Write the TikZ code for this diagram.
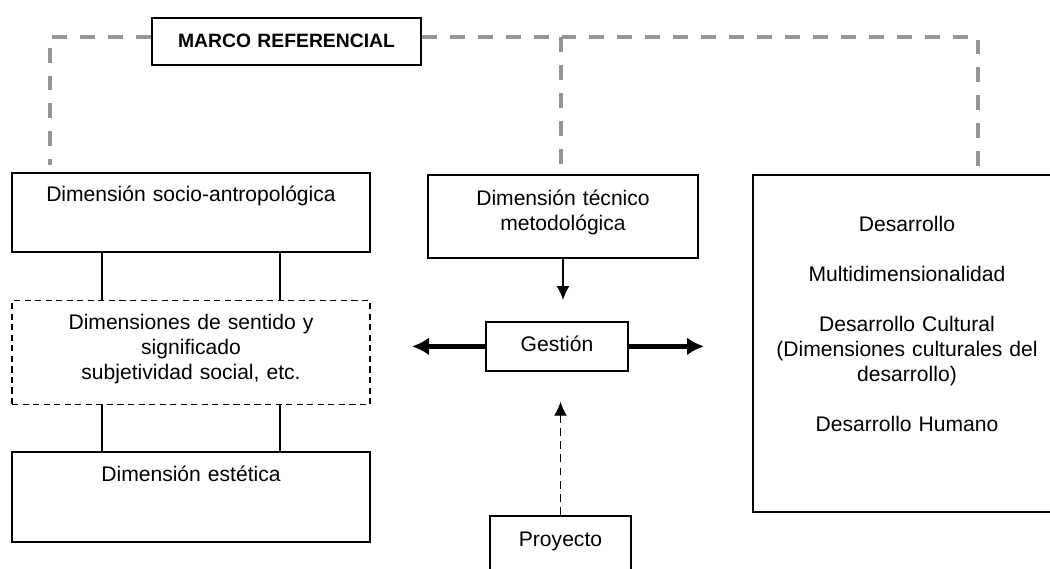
\documentclass[tikz,border=0pt]{standalone}
\usepackage{fontspec}
\setmainfont{Liberation Sans}
\usepackage{tikz}
\usetikzlibrary{arrows.meta}

\begin{document}
\begin{tikzpicture}[x=0.02cm, y=-0.02cm,
    box/.style={draw, line width=1pt, inner sep=0pt, align=center, anchor=north,
        font=\fontsize{12}{14.2}\selectfont},
    refline/.style={draw=black!42, line width=2pt, dash pattern=on 8.5pt off 7.4pt},
    thin/.style={line width=0.8pt},
    thick arrow/.style={line width=3.2pt, -{Latex[length=0.34cm, width=0.36cm]}}]
        \useasboundingbox (0,0) rectangle (1050,568);
        \clip (0,0) rectangle (1050,568);

        \node[box, font=\fontsize{11}{13}\selectfont\bfseries, text width=5.38cm, text height=0.6cm, text depth=0.34cm] (marco) at (286.5, 17) {MARCO REFERENCIAL};
        \node[box, text width=7.16cm, text height=0.58cm, text depth=1.0cm] (socio) at (191, 172) {Dimensión socio-antropológica};
        \node[box, dash pattern=on 3.5pt off 2.5pt, line width=0.8pt, text width=7.16cm, text height=0.58cm, text depth=1.5cm] (sentido) at (191, 300) {Dimensiones de sentido y\\significado\\subjetividad social, etc.};
        \node[box, text width=7.16cm, text height=0.6cm, text depth=1.2cm] (estetica) at (191, 451) {Dimensión estética};
        \node[box, text width=5.4cm, text height=0.62cm, text depth=1.04cm] (tecnico) at (563, 174) {Dimensión técnico\\metodológica};
        \node[box, text width=2.84cm, text height=0.6cm, text depth=0.38cm] (gestion) at (557, 321) {Gestión};
        \node[box, text width=2.82cm, text height=0.62cm, text depth=0.7cm] (proyecto) at (560.5, 515) {Proyecto};
        \node[box, line width=1.1pt, text width=6.16cm, text height=1.14cm, text depth=5.6cm] (desarrollo) at (907, 174) {Desarrollo\\[\baselineskip]Multidimensionalidad\\[\baselineskip]Desarrollo Cultural\\(Dimensiones culturales del\\desarrollo)\\[\baselineskip]Desarrollo Humano};

        \coordinate (cl) at (50, 37);
        \coordinate (cle) at (50, 165);
        \coordinate (cm) at (561, 37);
        \coordinate (cme) at (561, 165);
        \coordinate (cr) at (978, 37);
        \coordinate (cre) at (978, 167);
        \coordinate (gl) at (412, 345);
        \coordinate (gr) at (704, 345);

        \path[refline] (marco.west |- cl) -- (cl) -- (cle);
        \path[refline] (marco.east |- cr) -- (cr) -- (cre);
        \path[refline] (cm) -- (cme);

        \draw[thin] ([xshift=-1.78cm]socio.south) -- ([xshift=-1.78cm]sentido.north);
        \draw[thin] ([xshift=1.78cm]socio.south) -- ([xshift=1.78cm]sentido.north);
        \draw[thin] ([xshift=-1.78cm]sentido.south) -- ([xshift=-1.78cm]estetica.north);
        \draw[thin] ([xshift=1.78cm]sentido.south) -- ([xshift=1.78cm]estetica.north);

        \draw[thin, -{Latex[length=0.28cm, width=0.26cm]}, shorten >=0.42cm] (tecnico.south) -- (tecnico.south |- gestion.north);
        \draw[thin, dash pattern=on 4.5pt off 3pt, -{Latex[length=0.28cm, width=0.26cm]}, shorten >=0.6cm] (proyecto.north) -- (proyecto.north |- gestion.south);
        \draw[thick arrow] (gestion.west) -- (gestion.west -| gl);
        \draw[thick arrow] (gestion.east) -- (gestion.east -| gr);
    \end{tikzpicture}
\end{document}
